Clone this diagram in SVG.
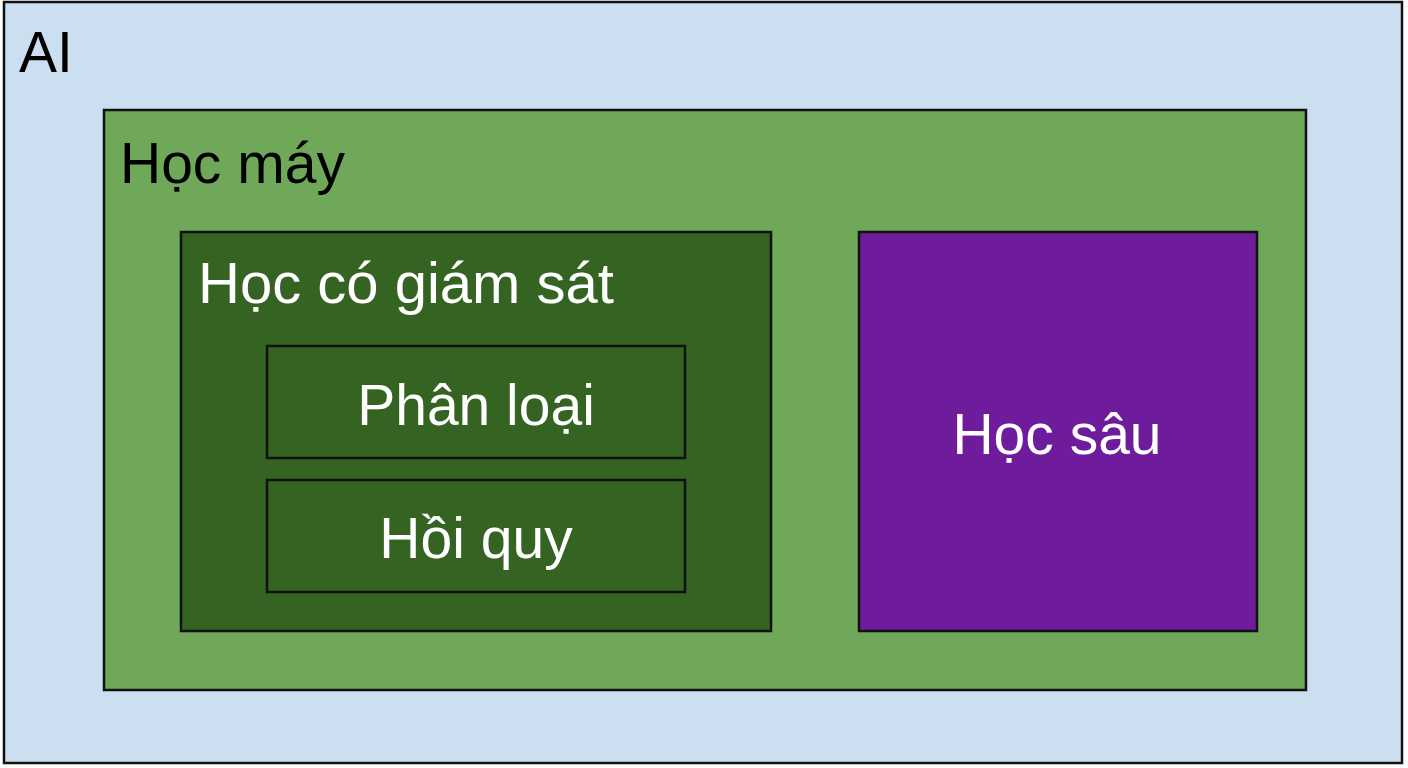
<svg xmlns="http://www.w3.org/2000/svg" width="1408" height="768" viewBox="0 0 1408 768">
<style>
rect{stroke:#111;stroke-width:2.5}
text{font-family:"Liberation Sans",Arial,sans-serif;font-size:57px}
.dark{fill:#000}
.light{fill:#fff}
.mid{text-anchor:middle}
</style>
<rect width="1408" height="768" fill="#ffffff" style="stroke:none"/>
<g id="ai">
<rect x="4" y="2" width="1398" height="761" fill="#cbdff0"/>
<text class="dark" x="19" y="72">AI</text>
</g>
<g id="hoc-may">
<rect x="104" y="110" width="1202" height="580" fill="#6fa858"/>
<text class="dark" x="120" y="183">Học máy</text>
</g>
<g id="hoc-co-giam-sat">
<rect x="181" y="232" width="590" height="399" fill="#356322"/>
<text class="light" x="198" y="303" style="font-size:58px">Học có giám sát</text>
</g>
<g id="phan-loai">
<rect x="267" y="346" width="418" height="112" fill="#356322"/>
<text class="light mid" x="476" y="425">Phân loại</text>
</g>
<g id="hoi-quy">
<rect x="267" y="480" width="418" height="112" fill="#356322"/>
<text class="light mid" x="476" y="558">Hồi quy</text>
</g>
<g id="hoc-sau">
<rect x="859" y="232" width="398" height="399" fill="#6e1c9c"/>
<text class="light mid" x="1057" y="454">Học sâu</text>
</g>
<g id="connectors"></g>
</svg>
